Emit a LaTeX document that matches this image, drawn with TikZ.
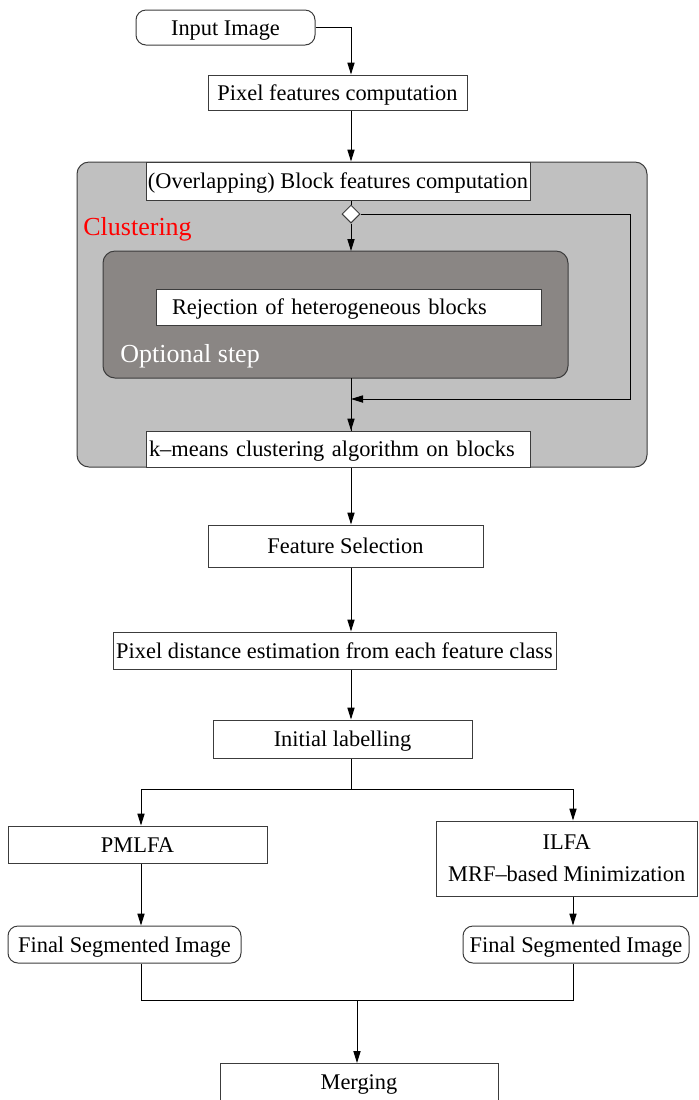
\documentclass[tikz,border=0pt]{standalone}
\usepackage{fontspec}
\setmainfont{Liberation Serif}
\usetikzlibrary{arrows.meta,shapes.geometric}
\definecolor{clustergray}{RGB}{192,192,192}
\definecolor{optgray}{RGB}{138,134,132}
\definecolor{edgegray}{RGB}{60,60,60}
\begin{document}
\begin{tikzpicture}[x=0.5pt,y=-0.5pt,
  font=\fontsize{11.2}{13}\selectfont,
  every node/.style={inner sep=0pt},
  box/.style={draw=edgegray,line width=0.5pt,fill=white,rectangle},
  oneline/.style={text height=9.5pt,text depth=2pt},
  roundbox/.style={box,oneline,rounded corners=5pt},
  flow/.style={line width=0.5pt,-{Triangle[length=6pt,width=3.6pt]}},
  plain/.style={line width=0.5pt},
  area/.style={draw=edgegray,line width=0.5pt,rounded corners=6pt}]
\useasboundingbox (0,0) rectangle (698,1100);

% top of the pipeline
\node[roundbox,minimum width=89.5pt,minimum height=17.5pt] (inp) at (225.5,27.5) {Input Image\hspace{9pt}};
\node[box,oneline,minimum width=129.5pt,minimum height=17.5pt] (pix) at (337.5,92.5) {Pixel features computation};

% clustering stage
\draw[area,fill=clustergray] (77,162) rectangle (647,467);
\node[font=\fontsize{13}{15}\selectfont,text=red,anchor=west] (clt) at (83,229) {Clustering};
\draw[area,fill=optgray] (103,251) rectangle (568,378);
\node[font=\fontsize{13}{15}\selectfont,text=white,anchor=west] (opt) at (120,356) {Optional step};

\node[box,oneline,minimum width=192pt,minimum height=19pt] (blk) at (338,181) {(Overlapping) Block features computation};
\node[box,oneline,minimum width=192.5pt,minimum height=18pt,text width=176.5pt,inner xsep=8pt,align=left] (rej) at (348.5,307) {Rejection of heterogeneous blocks};
\node[box,oneline,minimum width=192pt,minimum height=18pt,text width=189pt,inner xsep=1.5pt,align=left] (kmn) at (338,449) {k\textendash means clustering algorithm on blocks};
\node[draw=edgegray,line width=0.5pt,fill=white,diamond,minimum size=9pt] (dia) at (351,214) {};

% later steps
\node[box,oneline,minimum width=137.5pt,minimum height=21pt] (fsel) at (345.5,546) {Feature Selection};
\node[box,oneline,minimum width=221.5pt,minimum height=18.5pt] (dist) at (334.5,650.5) {Pixel distance estimation from each feature class};
\node[box,oneline,minimum width=129.5pt,minimum height=19pt] (init) at (342.5,739) {Initial labelling};
\node[box,oneline,minimum width=129.5pt,minimum height=18.5pt] (pml) at (137.5,844.5) {PMLFA};
\node[box,minimum width=130.5pt,minimum height=37.5pt,align=center] (ilf) at (566.75,858.5) {ILFA\\[3pt]MRF\textendash based Minimization};
\node[roundbox,minimum width=116.5pt,minimum height=18.5pt] (finl) at (124.5,944.5) {Final Segmented Image};
\node[roundbox,minimum width=113pt,minimum height=18.5pt] (finr) at (576,944.5) {Final Segmented Image};
\node[box,minimum width=139pt,minimum height=23.5pt,anchor=north] (mrg) at (359,1063) {};
\node (mrgt) at (359,1084) {Merging};

% routing points
\coordinate (cx) at (351,0);
\coordinate (lx) at (141,0);
\coordinate (rx) at (573,0);
\coordinate (fb1) at (630,214);
\coordinate (fb2) at (630,399);
\coordinate (fb3) at (351,399);
\coordinate (split) at (351,789);
\coordinate (joinl) at (141,1000);
\coordinate (joinr) at (573,1000);
\coordinate (joinm) at (357,1000);

% connectors
\draw[flow] (inp.east) -| (pix.north -| cx);
\draw[flow] (pix.south -| cx) -- (blk.north -| cx);
\draw[plain] (blk.south -| cx) -- (dia.north);
\draw[flow] (dia.south) -- (351,251);
\draw[plain] (351,378) -- (kmn.north -| cx);
\draw[flow] (dia.east) -- (fb1) -- (fb2) -- (fb3);
\draw[flow] (fb3) -- (kmn.north -| cx);
\draw[flow] (kmn.south -| cx) -- (fsel.north -| cx);
\draw[flow] (fsel.south -| cx) -- (dist.north -| cx);
\draw[flow] (dist.south -| cx) -- (init.north -| cx);
\draw[plain] (init.south -| cx) -- (split);
\draw[flow] (split) -| (pml.north -| lx);
\draw[flow] (split) -| (ilf.north -| rx);
\draw[flow] (pml.south -| lx) -- (finl.north -| lx);
\draw[flow] (ilf.south -| rx) -- (finr.north -| rx);
\draw[plain] (finl.south -| lx) -- (joinl) -- (joinr) -- (finr.south -| rx);
\draw[flow] (joinm) -- (mrg.north -| joinm);
\end{tikzpicture}
\end{document}
